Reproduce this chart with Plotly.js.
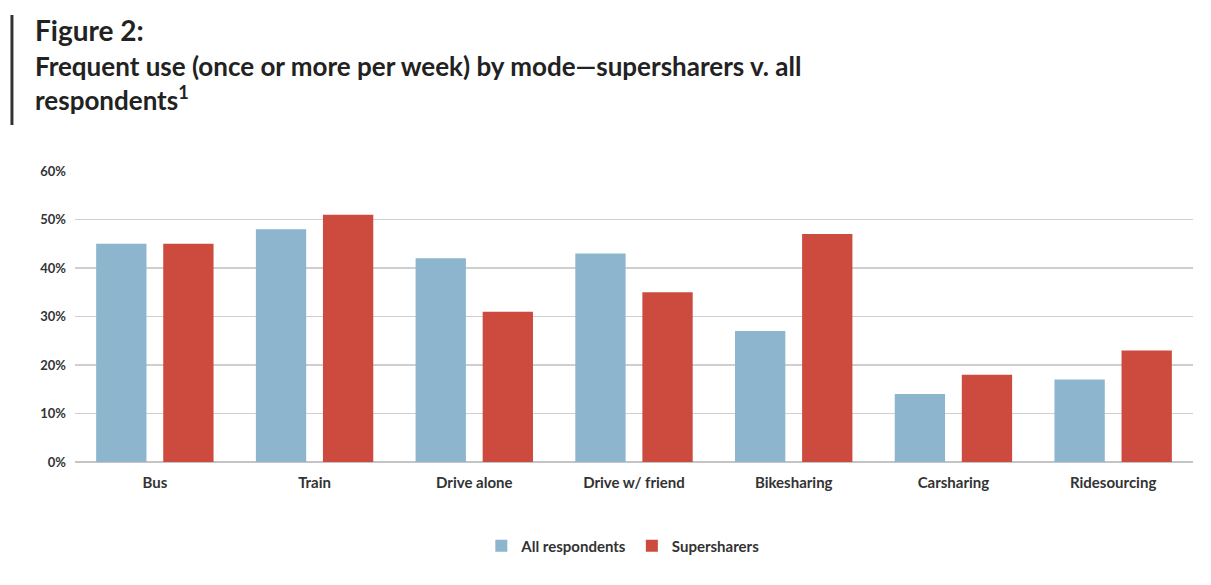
<!DOCTYPE html>
<html>
<head>
<meta charset="utf-8">
<script src="https://cdn.plot.ly/plotly-3.0.1.min.js"></script>
<style>html,body{margin:0;padding:0;background:#fff;}#chart{width:1211px;height:585px;}</style>
</head>
<body>
<div id="chart"></div>
<script>
const categories = ["Bus", "Train", "Drive alone", "Drive w/ friend", "Bikesharing", "Carsharing", "Ridesourcing"];
const allRespondents = [45, 48, 42, 43, 27, 14, 17];
const supersharers = [45, 51, 31, 35, 47, 18, 23];
const yTicks = [0, 10, 20, 30, 40, 50, 60];
const yTickLabels = ["0%", "10%", "20%", "30%", "40%", "50%", "60%"];
const seriesNames = ["All respondents", "Supersharers"];

const traces = [
  {type: "bar", name: seriesNames[0], x: categories, y: allRespondents, marker: {color: "#8db5cd"}},
  {type: "bar", name: seriesNames[1], x: categories, y: supersharers, marker: {color: "#cc4b3e"}}
];

const font = "Lato, 'Open Sans', sans-serif";
const layout = {
  width: 1211, height: 585,
  margin: {l: 75, r: 18, t: 171, b: 123},
  paper_bgcolor: "#fff", plot_bgcolor: "#fff",
  barmode: "group", bargap: 0.16, bargroupgap: 0.25,
  font: {family: font, color: "#333"},
  showlegend: true,
  legend: {orientation: "h", x: 0.49, xanchor: "center", y: -0.289, yanchor: "middle",
           font: {size: 15, color: "#333", weight: 700}, itemwidth: 30},
  xaxis: {type: "category", tickfont: {size: 15, color: "#333", weight: 700}, showgrid: false, showline: false,
          ticks: "", ticklabelstandoff: 10},
  yaxis: {range: [0, 60], tickvals: yTicks, ticktext: yTickLabels, tickfont: {size: 13, color: "#333", weight: 700},
          showgrid: true, gridcolor: "#cfcfcf", gridwidth: 1.5, zeroline: true, zerolinecolor: "#c4c4c4",
          zerolinewidth: 1.5, showline: false, ticks: "", ticklabelstandoff: 8},
  annotations: [
    {xref: "paper", yref: "paper", x: -0.0376, y: 1.4845, xanchor: "left", yanchor: "middle", showarrow: false,
     align: "left", text: "Figure 2:", font: {family: font, size: 28, color: "#222", weight: 700}},
    {xref: "paper", yref: "paper", x: -0.0376, y: 1.302, xanchor: "left", yanchor: "middle", showarrow: false,
     align: "left", text: "Frequent use (once or more per week) by mode\u2014supersharers v. all<br>respondents<sup>1</sup>",
     font: {family: font, size: 26, color: "#222", weight: 700}}
  ],
  shapes: [
    {type: "line", xref: "paper", yref: "paper", x0: -0.0564, x1: -0.0564, y0: 1.158, y1: 1.536,
     line: {color: "#333", width: 3}}
  ]
};

Plotly.newPlot("chart", traces, layout, {displayModeBar: false, staticPlot: true});
</script>
</body>
</html>
